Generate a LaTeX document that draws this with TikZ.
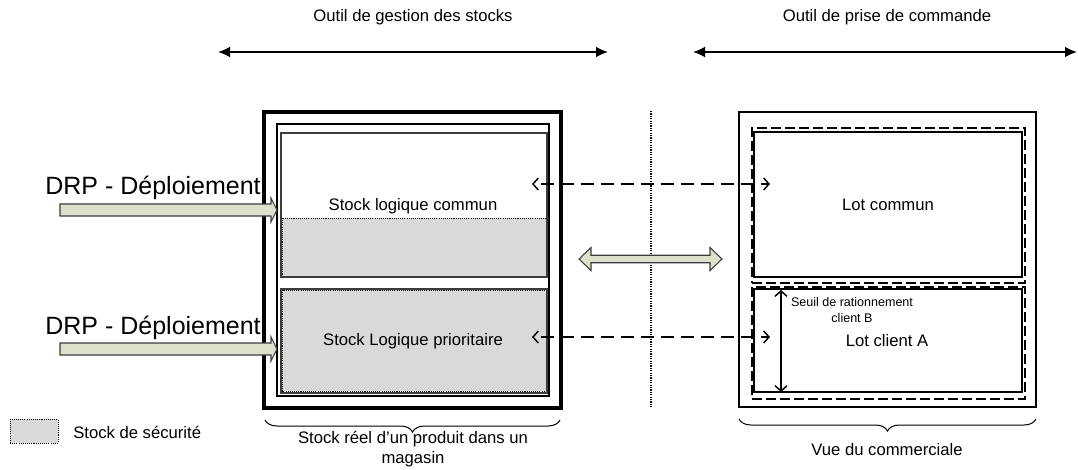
\documentclass[tikz,border=0pt]{standalone}
\usepackage{fontspec}
\setmainfont{Liberation Sans}
\usetikzlibrary{arrows.meta,decorations.pathreplacing,fit,calc}
\definecolor{secgray}{RGB}{217,217,217}
\definecolor{blockfill}{RGB}{221,225,204}
\definecolor{edgegray}{RGB}{60,60,60}
\begin{document}
\begin{tikzpicture}[x=0.75pt,y=-0.75pt,
  body/.style={font=\fontsize{12.5}{15}\selectfont, inner sep=0pt, align=center},
  big/.style={font=\fontsize{18.75}{22}\selectfont, inner sep=0pt},
  small/.style={font=\fontsize{9.4}{11.5}\selectfont, inner sep=0pt, align=center},
  boxfit/.style={inner sep=0pt, outer sep=0pt},
  secstock/.style={fill=secgray, draw=black, dash pattern=on 0.8pt off 0.8pt, line width=0.75pt},
  blockarrow/.style={fill=blockfill, draw=edgegray, line width=0.8pt, line join=miter},
  toolarrow/.style={line width=1.1pt, {Latex[length=9pt,width=8pt]}-{Latex[length=9pt,width=8pt]}},
  linkarrow/.style={line width=1.1pt, dash pattern=on 9.75pt off 5.25pt, dash phase=9.75pt,
     {Straight Barb[length=4pt,width=9pt]}-{Straight Barb[length=4pt,width=9pt]}},
  dashbox/.style={draw, line width=1.1pt, dash pattern=on 7.5pt off 3pt},
  bracestyle/.style={decorate, decoration={brace, mirror, amplitude=9pt}, line width=0.75pt}
]
\useasboundingbox (0,0) rectangle (1078,469);

% ---------- top headings ----------
\node[body] (tgs) at (413,17) {Outil de gestion des stocks};
\node[body] (tpc) at (887,17) {Outil de prise de commande};
\coordinate (gsL) at (218,52); \coordinate (gsR) at (608,52);
\coordinate (pcL) at (693,52); \coordinate (pcR) at (1077,52);
\draw[toolarrow] (gsL) -- (gsR);
\draw[toolarrow] (pcL) -- (pcR);

% ---------- left: stock management ----------
\node[boxfit, draw, line width=3pt, fit={(264,112)(561,408)}] (outer) {};
\node[boxfit, draw, line width=1.5pt, fit={(277,124)(549,396)}] (inner) {};
% stock logique commun
\node[boxfit, fit={(281,133)(547,277)}] (commun) {};
\draw[secstock] (282,218) rectangle (546,276);
\draw[draw=edgegray, line width=1.1pt] (commun.north west) rectangle (commun.south east);
\node[body] (tcommun) at (413,206) {Stock logique commun};
% stock logique prioritaire
\node[boxfit, fit={(281,289)(547,393)}] (prio) {};
\draw[secstock] (282,290) rectangle (546,391);
\draw[draw=edgegray, line width=1.1pt] (prio.north west) rectangle (prio.south east);
\node[body] (tprio) at (413,341) {Stock Logique prioritaire};

% brace left
\coordinate (bL1) at (265,420); \coordinate (bL2) at (560,420);
\draw[bracestyle] (bL1) -- (bL2);
\node[body] (treel) at (413,449.5) {Stock réel d’un produit dans un\\magasin};

% ---------- DRP arrows ----------
\node[big, anchor=east] (drp1) at (261,188) {DRP - Déploiement};
\node[big, anchor=east] (drp2) at (261,328) {DRP - Déploiement};
\coordinate (a1s) at (60,210); \coordinate (a1t) at (277,210);
\coordinate (a2s) at (60,349); \coordinate (a2t) at (277,349);
\draw[blockarrow] ($(a1s)+(0,-6)$) -- ($(a1t)+(-6,-6)$) -- ($(a1t)+(-6,-12)$) -- (a1t)
  -- ($(a1t)+(-6,12)$) -- ($(a1t)+(-6,6)$) -- ($(a1s)+(0,6)$) -- cycle;
\draw[blockarrow] ($(a2s)+(0,-6)$) -- ($(a2t)+(-6,-6)$) -- ($(a2t)+(-6,-12)$) -- (a2t)
  -- ($(a2t)+(-6,12)$) -- ($(a2t)+(-6,6)$) -- ($(a2s)+(0,6)$) -- cycle;

% ---------- separator ----------
\coordinate (sepT) at (651,111); \coordinate (sepB) at (651,407);
\draw[line width=0.9pt, dash pattern=on 0.9pt off 0.9pt] (sepT) -- (sepB);

% ---------- middle double block arrow ----------
\coordinate (mL) at (579,259); \coordinate (mR) at (722,259);
\draw[blockarrow] (mL) -- ($(mL)+(12,-11.5)$) -- ($(mL)+(12,-3.75)$) -- ($(mR)+(-12,-3.75)$)
  -- ($(mR)+(-12,-11.5)$) -- (mR) -- ($(mR)+(-12,11.5)$) -- ($(mR)+(-12,3.75)$)
  -- ($(mL)+(12,3.75)$) -- ($(mL)+(12,11.5)$) -- cycle;

% ---------- right: order taking view ----------
\node[boxfit, draw, line width=1.1pt, fit={(739,112)(1036,407)}] (vue) {};
\node[boxfit, dashbox, fit={(752,128)(1025,283)}] (lcdash) {};
\node[boxfit, draw, line width=1.2pt, fit={(754,132)(1022,277)}] (lotc) {};
\node[boxfit, dashbox, fit={(752,287)(1025,399)}] (ladash) {};
\node[boxfit, draw, line width=1.2pt, fit={(754,289)(1022,392)}] (lota) {};
\node[body] (tlotc) at (888,205) {Lot commun};
\node[body] (tlota) at (887,341) {Lot client A};
\node[small] (tseuil) at (852,310) {Seuil de rationnement\\client B};
\coordinate (sT) at (781,290); \coordinate (sB) at (781,392);
\draw[line width=1.1pt, {Straight Barb[length=4pt,width=9pt]}-{Straight Barb[length=4pt,width=9pt]}] (sT) -- (sB);

% brace right
\coordinate (bR1) at (739,419); \coordinate (bR2) at (1036,419);
\draw[bracestyle] (bR1) -- (bR2);
\node[body] (tvue) at (887,450) {Vue du commerciale};

% ---------- dashed links ----------
\coordinate (l1a) at (532,184); \coordinate (l1b) at (770,184);
\coordinate (l2a) at (532,337); \coordinate (l2b) at (770,337);
\draw[linkarrow] (l1a) -- (l1b);
\draw[linkarrow] (l2a) -- (l2b);

% ---------- legend ----------
\node[boxfit, secstock, fit={(10,419)(58,443)}] (leg) {};
\node[body, anchor=west] (tleg) at (73,432) {Stock de sécurité};
\end{tikzpicture}
\end{document}
